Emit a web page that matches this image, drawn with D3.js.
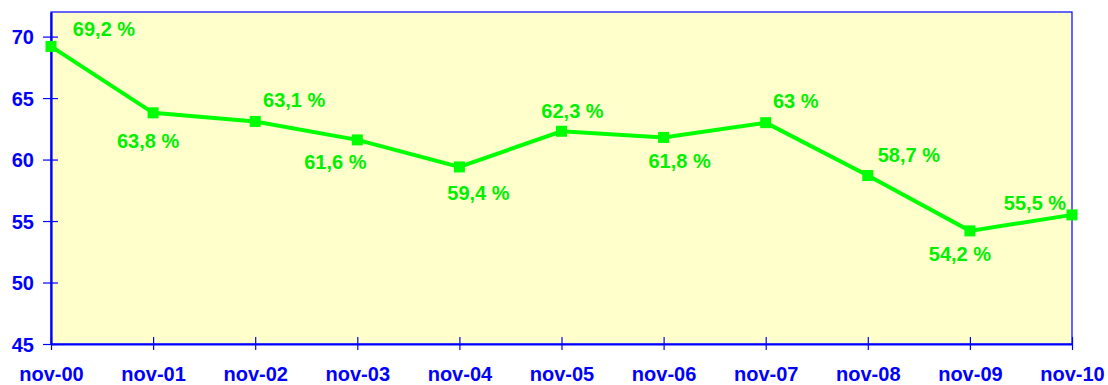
<!DOCTYPE html>
<html>
<head>
<meta charset="utf-8">
<script src="https://cdn.jsdelivr.net/npm/d3@7/dist/d3.min.js"></script>
<style>
  html, body { margin: 0; padding: 0; background: #ffffff; }
  svg { display: block; font-family: "Liberation Sans", Arial, sans-serif; }
</style>
</head>
<body>
<svg id="chart" width="1108" height="385"></svg>
<script>
// Share by year (November readings)
const categories = ["nov-00", "nov-01", "nov-02", "nov-03", "nov-04", "nov-05",
                    "nov-06", "nov-07", "nov-08", "nov-09", "nov-10"];
const values = [69.2, 63.8, 63.1, 61.6, 59.4, 62.3, 61.8, 63.0, 58.7, 54.2, 55.5];
const valueLabels = ["69,2 %", "63,8 %", "63,1 %", "61,6 %", "59,4 %", "62,3 %",
                     "61,8 %", "63 %", "58,7 %", "54,2 %", "55,5 %"];
const yTicks = [45, 50, 55, 60, 65, 70];

// Where each value label sits relative to its point (centre x, baseline y)
const labelOffsets = [[53, -10], [-5, 35], [39, -14], [-22, 29], [19, 33], [11, -13],
                      [16, 31], [30, -15], [41, -14], [-10, 30], [-37, -5]];

const blue = "#0000ff";
const green = "#00ff00";
const labelGreen = "#00f000";

const svg = d3.select("#chart");
const plot = { left: 51, top: 12, right: 1072, bottom: 344 };

const x = d3.scalePoint().domain(categories).range([plot.left, plot.right]);
const y = d3.scaleLinear().domain([45, 72]).range([plot.bottom, plot.top]);

// Plot area background
svg.append("rect")
  .attr("x", plot.left).attr("y", plot.top)
  .attr("width", plot.right - plot.left).attr("height", plot.bottom - plot.top)
  .attr("fill", "#ffffcc")
  .attr("stroke", blue).attr("stroke-width", 1.2);

// Y axis
const yAxis = d3.axisLeft(y).tickValues(yTicks).tickSize(0).tickPadding(0);
const gy = svg.append("g").attr("transform", `translate(${plot.left},0)`).call(yAxis);
gy.select(".domain").attr("stroke", blue).attr("stroke-width", 2.2);
gy.selectAll(".tick line").remove();
gy.selectAll(".tick").append("line")
  .attr("x1", -8).attr("x2", 7).attr("stroke", blue).attr("stroke-width", 1.2);
gy.selectAll(".tick text")
  .attr("x", -17).attr("dy", "0.36em")
  .attr("fill", blue).attr("font-size", 20).attr("font-weight", "bold")
  .attr("font-family", "'Liberation Sans', Arial, sans-serif");

// X axis
const xAxis = d3.axisBottom(x).tickSize(0).tickPadding(0);
const gx = svg.append("g").attr("transform", `translate(0,${plot.bottom})`).call(xAxis);
gx.select(".domain").attr("stroke", blue).attr("stroke-width", 2.2);
gx.selectAll(".tick line").remove();
gx.selectAll(".tick").append("line")
  .attr("y1", -7).attr("y2", 6).attr("stroke", blue).attr("stroke-width", 1.2);
gx.selectAll(".tick text")
  .attr("y", 37).attr("dy", 0)
  .attr("fill", blue).attr("font-size", 20).attr("font-weight", "bold")
  .attr("font-family", "'Liberation Sans', Arial, sans-serif");

// Series line
const line = d3.line()
  .x((d, i) => x(categories[i]))
  .y(d => y(d));

svg.append("path")
  .datum(values)
  .attr("d", line)
  .attr("fill", "none")
  .attr("stroke", green)
  .attr("stroke-width", 4)
  .attr("stroke-linejoin", "miter");

// Square markers
const m = 11;
svg.append("g").selectAll("rect")
  .data(values)
  .join("rect")
  .attr("x", (d, i) => x(categories[i]) - m / 2)
  .attr("y", d => y(d) - m / 2)
  .attr("width", m).attr("height", m)
  .attr("fill", green);

// Value labels
svg.append("g").selectAll("text")
  .data(values)
  .join("text")
  .attr("x", (d, i) => x(categories[i]) + labelOffsets[i][0])
  .attr("y", (d, i) => y(d) + labelOffsets[i][1])
  .attr("text-anchor", "middle")
  .attr("fill", labelGreen)
  .attr("font-size", 20)
  .attr("font-weight", "bold")
  .text((d, i) => valueLabels[i]);
</script>
</body>
</html>
